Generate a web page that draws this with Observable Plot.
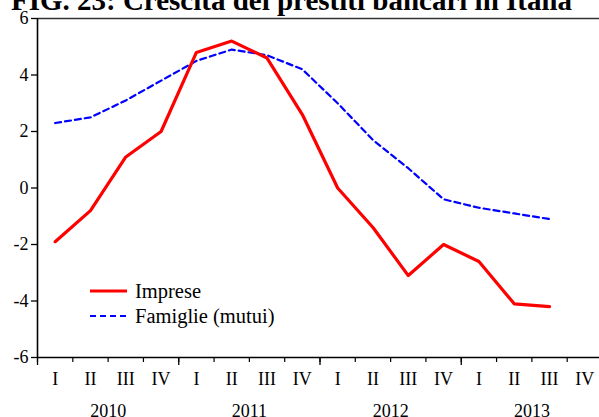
<!DOCTYPE html>
<html>
<head>
<meta charset="utf-8">
<script src="https://cdn.jsdelivr.net/npm/d3@7"></script>
<script src="https://cdn.jsdelivr.net/npm/@observablehq/plot@0.6"></script>
<style>
  html, body { margin: 0; padding: 0; background: white; overflow: hidden; }
  #wrap { position: relative; width: 599px; height: 417px; }
  #legend { position: absolute; left: 88px; top: 278px; }
</style>
</head>
<body>
<div id="wrap"></div>
<script>
const title = "FIG. 23: Crescita dei prestiti bancari in Italia";
const quarterLabels = ["I", "II", "III", "IV"];
const yearLabels = ["2010", "2011", "2012", "2013"];
const yTicks = [-6, -4, -2, 0, 2, 4, 6];
const seriesNames = ["Imprese", "Famiglie (mutui)"];
const imprese = [-1.9, -0.8, 1.1, 2.0, 4.8, 5.2, 4.6, 2.6, 0.0, -1.4, -3.1, -2.0, -2.6, -4.1, -4.2];
const famiglie = [2.3, 2.5, 3.1, 3.8, 4.5, 4.9, 4.7, 4.2, 3.0, 1.7, 0.7, -0.4, -0.7, -0.9, -1.1];

const nQuarters = yearLabels.length * quarterLabels.length;
const toRows = arr => arr.map((v, i) => ({q: i + 0.5, v}));

const chart = Plot.plot({
  width: 599,
  height: 417,
  marginLeft: 37,
  marginRight: 0,
  marginTop: 18,
  marginBottom: 60,
  x: {domain: [0, nQuarters], range: [37, 602]},
  y: {domain: [-6, 6]},
  style: {fontFamily: "Liberation Serif, serif", fontSize: "18px", color: "black", background: "white", overflow: "visible"},
  marks: [
    Plot.ruleY([6], {stroke: "#333", strokeWidth: 1.5}),
    Plot.axisY({ticks: yTicks, tickSize: 6, tickPadding: 3, tickFormat: d => String(d), fontSize: 18, strokeWidth: 1.3, label: null}),
    Plot.axisX({ticks: d3.range(nQuarters + 1), tickSize: 5, tickFormat: () => "", strokeWidth: 1.2, label: null}),
    Plot.axisX({ticks: d3.range(0, nQuarters + 1, 4), tickSize: 8, tickFormat: () => "", strokeWidth: 1.3, label: null}),
    Plot.axisX({ticks: d3.range(nQuarters).map(i => i + 0.5), tickSize: 0, tickPadding: 15, tickFormat: d => quarterLabels[Math.floor(d) % 4], fontSize: 18, label: null}),
    Plot.axisX({ticks: yearLabels.map((_, i) => i * 4 + 2), tickSize: 0, tickPadding: 47, tickFormat: d => yearLabels[(d - 2) / 4], fontSize: 18, label: null}),
    Plot.ruleX([0], {stroke: "black", strokeWidth: 1.6}),
    Plot.ruleY([-6], {stroke: "black", strokeWidth: 1.6}),
    Plot.line(toRows(famiglie), {x: "q", y: "v", stroke: "#0000ff", strokeWidth: 2.2, strokeDasharray: "6,4"}),
    Plot.line(toRows(imprese), {x: "q", y: "v", stroke: "#ff0000", strokeWidth: 3.2}),
    Plot.text([title], {frameAnchor: "top", dx: -27, dy: -18, textAnchor: "middle", lineAnchor: "middle", fontSize: 29, fontWeight: "bold", fill: "black"})
  ]
});
const wrap = document.getElementById("wrap");
wrap.appendChild(chart);

// Legend (overlay SVG)
const styles = [
  {stroke: "#ff0000", width: 3.2, dash: null},
  {stroke: "#0000ff", width: 2.2, dash: "6,4"}
];
const ns = "http://www.w3.org/2000/svg";
const lg = document.createElementNS(ns, "svg");
lg.setAttribute("id", "legend");
lg.setAttribute("width", "240");
lg.setAttribute("height", "50");
seriesNames.forEach((name, i) => {
  const s = styles[i];
  const cy = 13 + i * 25;
  const line = document.createElementNS(ns, "line");
  line.setAttribute("x1", 2); line.setAttribute("x2", 39);
  line.setAttribute("y1", cy); line.setAttribute("y2", cy);
  line.setAttribute("stroke", s.stroke);
  line.setAttribute("stroke-width", s.width);
  if (s.dash) line.setAttribute("stroke-dasharray", s.dash);
  lg.appendChild(line);
  const t = document.createElementNS(ns, "text");
  t.setAttribute("x", 47); t.setAttribute("y", cy);
  t.setAttribute("dy", "0.32em");
  t.setAttribute("font-family", "Liberation Serif, serif");
  t.setAttribute("font-size", "20.5");
  t.setAttribute("fill", "black");
  t.textContent = name;
  lg.appendChild(t);
});
wrap.appendChild(lg);
</script>
</body>
</html>
